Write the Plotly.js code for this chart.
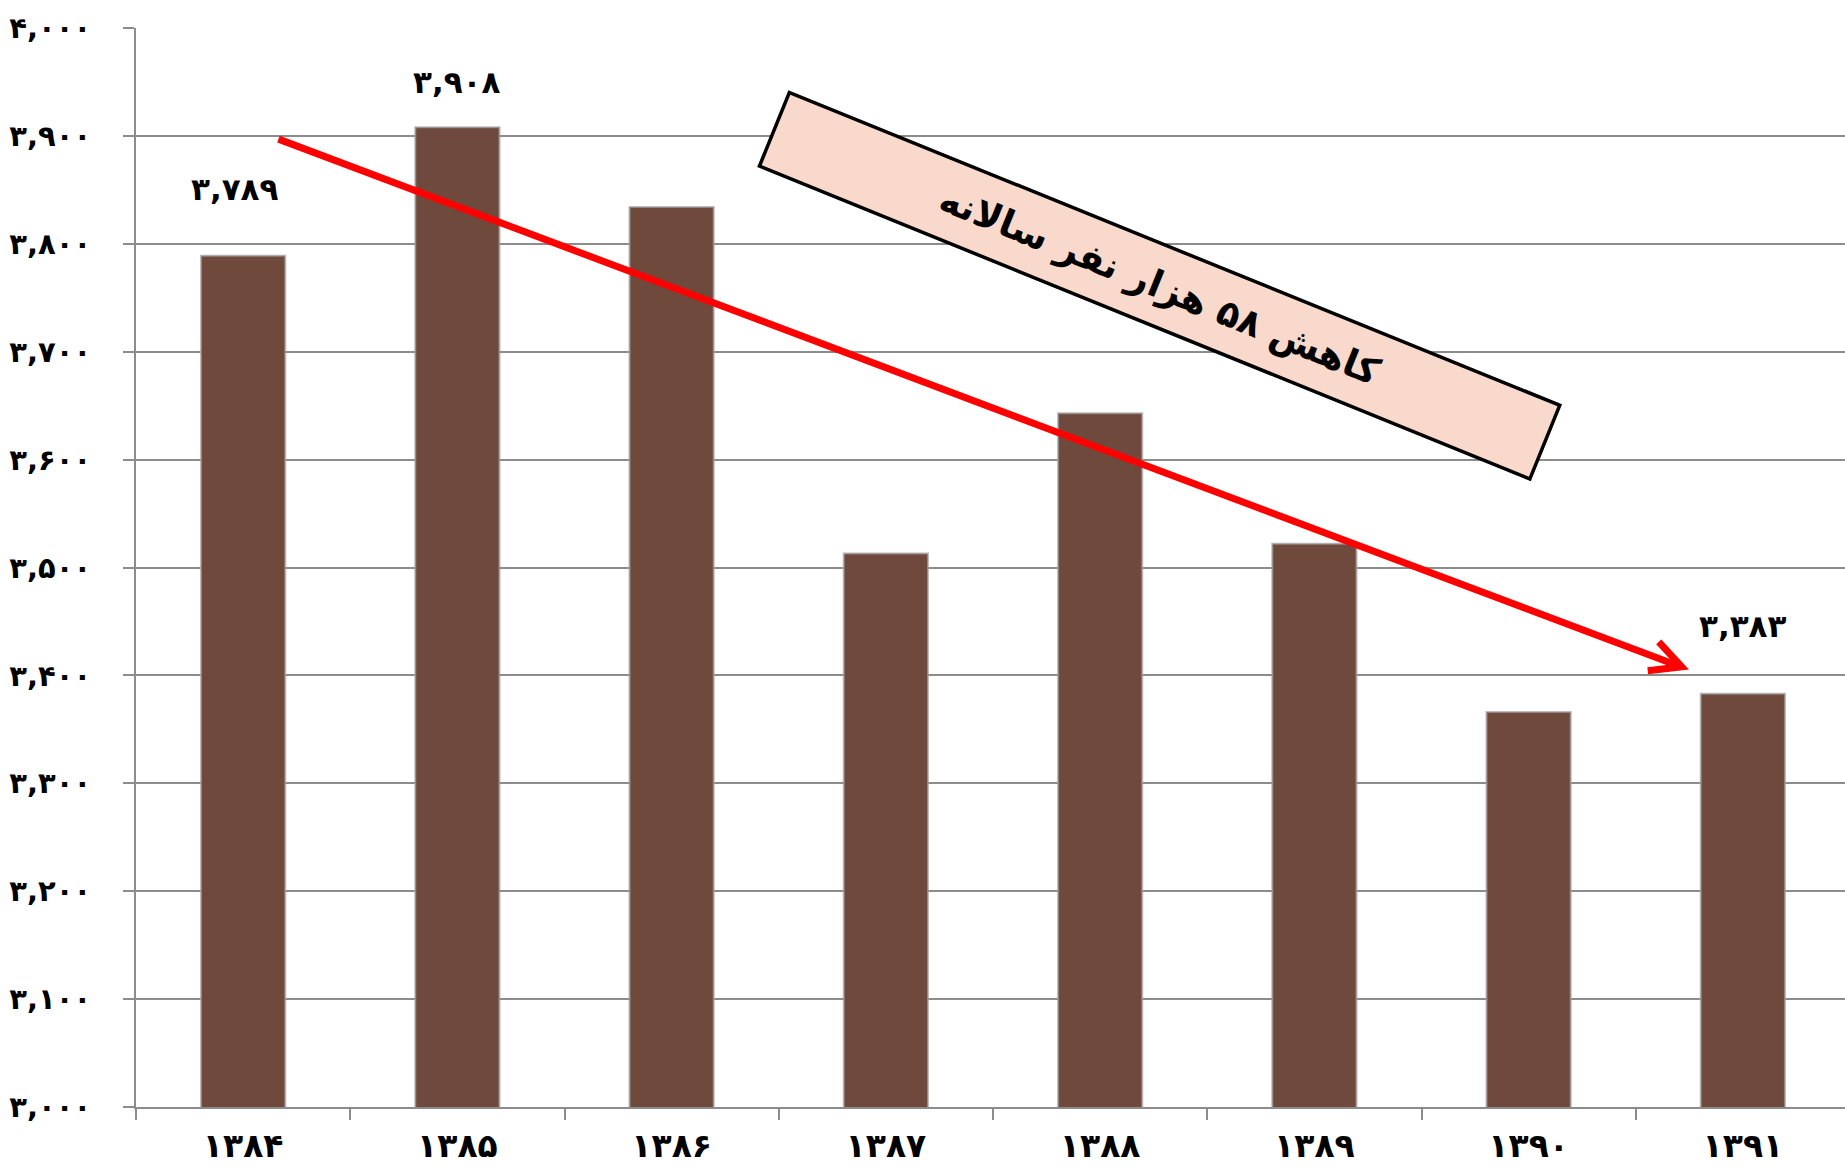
<!DOCTYPE html>
<html>
<head>
<meta charset="utf-8">
<script src="https://cdn.plot.ly/plotly-3.0.1.min.js"></script>
<style>
html,body{margin:0;padding:0;background:#fff;overflow:hidden;}
#chart{width:1850px;height:1171px;}
</style>
</head>
<body>
<div id="chart"></div>
<script>
// ---- data ----
const years = ['۱۳۸۴','۱۳۸۵','۱۳۸۶','۱۳۸۷','۱۳۸۸','۱۳۸۹','۱۳۹۰','۱۳۹۱'];
const population = [3789, 3908, 3834, 3513, 3643, 3522, 3366, 3383];
const labelledYears = ['۱۳۸۴','۱۳۸۵','۱۳۹۱'];
const yTickValues = [3000, 3100, 3200, 3300, 3400, 3500, 3600, 3700, 3800, 3900, 4000];
const trendText = 'کاهش ۵۸ هزار نفر سالانه';

// ---- helpers ----
const faDigits = ['۰','۱','۲','۳','۴','۵','۶','۷','۸','۹'];
function formatFa(v){
  const s = String(v).replace(/\B(?=(\d{3})+(?!\d))/g, ',');
  return s.replace(/\d/g, d => faDigits[+d]);
}

const FONT = 'DejaVu Sans, Noto Sans, sans-serif';
const GRID = '#8c8c8c';

const trace = {
  type: 'bar',
  x: years,
  y: population,
  marker: {color: '#6f4a3c', line: {color: 'rgba(160,160,160,0.7)', width: 2}},
  hoverinfo: 'x+y'
};

// label placement (pixels above the bar top)
const labelLift = {'۱۳۸۴': 67, '۱۳۸۵': 45, '۱۳۹۱': 68};
const annotations = labelledYears.map(yr => {
  const i = years.indexOf(yr);
  return {
    x: yr, y: population[i], xref: 'x', yref: 'y',
    text: formatFa(population[i]), showarrow: false,
    yshift: labelLift[yr], xshift: (i === 0 ? -8 : 0),
    font: {family: FONT, size: 31, color: '#000', weight: 'bold'}
  };
});

// rotated callout box
annotations.push({
  x: 4.275, y: 3761, xref: 'x', yref: 'y',
  text: trendText, showarrow: false, textangle: 22.1,
  width: 828, height: 76, borderpad: 0,
  bgcolor: '#f8d9cc', bordercolor: '#000', borderwidth: 3.5,
  align: 'center', valign: 'middle',
  font: {family: FONT, size: 37, color: '#000', weight: 'bold'}
});

// trend arrow
const trendStart = {x: 0.165, y: 3897};
const trendEnd = {x: 6.71, y: 3408};
const shapes = [
  {type: 'line', xref: 'x', yref: 'y', x0: trendStart.x, y0: trendStart.y, x1: trendEnd.x, y1: trendEnd.y,
   line: {color: '#ff0000', width: 7}},
  {type: 'path', xref: 'x', yref: 'y', xsizemode: 'pixel', ysizemode: 'pixel',
   xanchor: trendEnd.x, yanchor: trendEnd.y,
   path: 'M -22,25 L 1,0 L -33,-4',
   line: {color: '#ff0000', width: 7}}
];

const layout = {
  width: 1850, height: 1171,
  margin: {l: 136, r: 0, t: 28, b: 64, pad: 0},
  paper_bgcolor: '#fff', plot_bgcolor: '#fff',
  showlegend: false,
  bargap: 0.607,
  xaxis: {
    type: 'category', categoryorder: 'array', categoryarray: years,
    showgrid: false, showline: true, linecolor: GRID, linewidth: 2,
    ticks: 'outside', ticklen: 11, tickwidth: 2, tickcolor: GRID, tickson: 'boundaries',
    ticklabelstandoff: 8,
    tickfont: {family: FONT, size: 33, color: '#000', weight: 'bold'},
    fixedrange: true
  },
  yaxis: {
    range: [3000, 4000],
    tickvals: yTickValues, ticktext: yTickValues.map(formatFa),
    showgrid: true, gridcolor: GRID, gridwidth: 2,
    zeroline: false,
    showline: true, linecolor: GRID, linewidth: 2,
    ticks: 'outside', ticklen: 11, tickwidth: 2, tickcolor: GRID,
    ticklabelstandoff: 26,
    tickfont: {family: FONT, size: 29, color: '#000', weight: 'bold'},
    fixedrange: true
  },
  annotations: annotations,
  shapes: shapes
};

Plotly.newPlot('chart', [trace], layout, {displayModeBar: false, staticPlot: true}).then(gd => {
  // spread the digits like the original's typography
  gd.querySelectorAll('.xtick text').forEach(t => { t.style.letterSpacing = '5px'; });
  gd.querySelectorAll('.ytick text').forEach(t => { t.style.letterSpacing = '2px'; });
  gd.querySelectorAll('.annotation-text').forEach(t => {
    if (/^[۰-۹,]+$/.test(t.textContent)) t.style.letterSpacing = '4px';
  });
});
</script>
</body>
</html>
